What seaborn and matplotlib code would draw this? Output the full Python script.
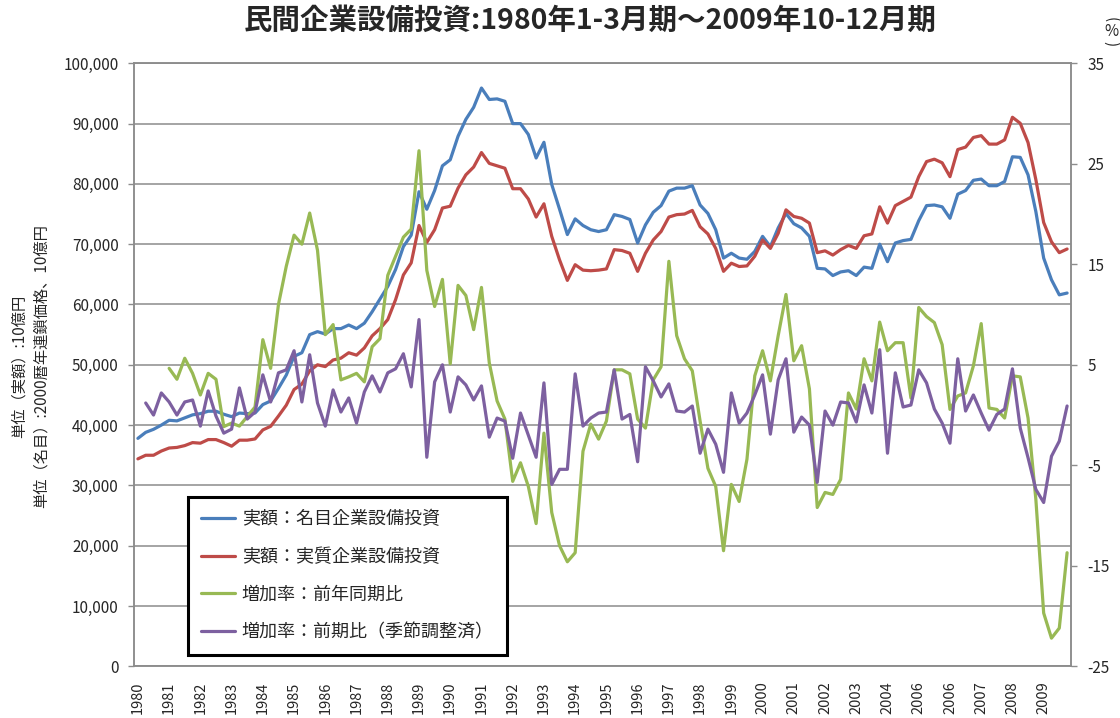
import numpy as np
import pandas as pd
import seaborn as sns
import matplotlib.pyplot as plt
from matplotlib.ticker import FuncFormatter

# quarterly data 1980 Q1 - 2009 Q4 (10億円 / %)
nominal = [37800, 38800, 39300, 40000, 40800, 40700, 41200, 41700, 41900, 42300,
           42300, 41800, 41400, 42000, 41900, 42000, 43400, 44000, 46100, 48300,
           51400, 52000, 55000, 55500, 55100, 56000, 56000, 56600, 56000, 56900,
           58800, 60900, 63000, 65800, 69600, 71500, 78700, 75800, 78900, 83000,
           84000, 87900, 90700, 92700, 95900, 94000, 94100, 93700, 90000, 90000,
           88200, 84300, 86900, 79900, 75800, 71600, 74200, 73100, 72400, 72100,
           72400, 74900, 74600, 74100, 70200, 73200, 75300, 76400, 78800, 79300,
           79300, 79700, 76500, 75100, 72400, 67700, 68500, 67700, 67500, 68800,
           71300, 69600, 72700, 75100, 73400, 72700, 71300, 66000, 65900, 64800,
           65400, 65600, 64800, 66200, 66000, 70000, 67100, 70200, 70600, 70800,
           73900, 76400, 76500, 76200, 74300, 78300, 78900, 80600, 80800, 79700,
           79700, 80400, 84500, 84400, 81500, 75400, 67700, 64100, 61600, 61900]

real = [34400, 35000, 35000, 35700, 36200, 36300, 36600, 37100, 37000, 37600,
        37600, 37100, 36500, 37500, 37500, 37700, 39200, 39800, 41500, 43300,
        45900, 46800, 49000, 50000, 49700, 50800, 51100, 52000, 51600, 52800,
        54800, 56000, 57500, 60800, 64900, 66900, 73100, 70300, 72400, 76000,
        76300, 79300, 81500, 82800, 85200, 83400, 83000, 82600, 79200, 79200,
        77500, 74500, 76700, 71300, 67400, 64000, 66600, 65700, 65600, 65700,
        65900, 69100, 68950, 68500, 65500, 68500, 70700, 72100, 74500, 74900,
        75000, 75600, 72900, 71700, 69300, 65500, 66850, 66300, 66400, 68000,
        70700, 69300, 71800, 75700, 74600, 74300, 73500, 68600, 68900, 68200,
        69100, 69800, 69300, 71400, 71700, 76200, 73500, 76400, 77100, 77800,
        81200, 83700, 84100, 83500, 81200, 85700, 86100, 87700, 88000, 86600,
        86600, 87300, 91050, 90050, 86850, 80700, 73600, 70400, 68600, 69200]

yoy = [np.nan, np.nan, np.nan, np.nan,
       4.65, 3.56, 5.65, 4.15, 2.0, 4.15, 3.56, -1.15, -0.8, -1.1,
       -0.15, 0.8, 7.5, 4.65, 11.0, 14.8, 17.9, 17.0, 20.1, 16.4,
       8.0, 9.0, 3.5, 3.8, 4.15, 3.3, 6.8, 7.6, 13.9, 15.8,
       17.7, 18.5, 26.3, 14.4, 10.8, 13.5, 5.1, 12.9, 11.9, 8.5,
       12.7, 5.2, 1.4, -0.4, -6.6, -4.75, -7.1, -10.8, -1.8, -9.7,
       -13.0, -14.6, -13.7, -3.6, -0.9, -2.4, -0.6, 4.5, 4.5, 4.1,
       -0.4, -1.3, 3.5, 4.8, 15.3, 7.9, 5.6, 4.4, -0.6, -5.3,
       -7.1, -13.5, -6.9, -8.6, -4.4, 3.9, 6.4, 3.4, 7.9, 12.0,
       5.4, 6.9, 2.6, -9.2, -7.7, -7.9, -6.4, 2.2, 0.6, 5.6,
       3.4, 9.25, 6.4, 7.2, 7.2, 1.7, 10.7, 9.8, 9.2, 7.0,
       0.56, 1.9, 2.2, 4.9, 9.1, 0.7, 0.56, -0.3, 3.9, 3.8,
       -0.3, -8.4, -19.7, -22.2, -21.2, -13.7]

qoq = [np.nan,
       1.2, 0.0, 2.2, 1.3, 0.0, 1.3, 1.5, -1.1, 2.4, -0.1,
       -1.8, -1.4, 2.7, -0.4, 0.3, 4.0, 1.3, 4.2, 4.5, 6.4,
       1.3, 6.0, 1.2, -1.1, 2.5, 0.3, 1.7, -0.8, 2.3, 3.9,
       2.3, 4.2, 4.6, 6.1, 2.8, 9.5, -4.2, 3.3, 5.0, 0.3,
       3.8, 3.0, 1.5, 2.9, -2.2, -0.3, -0.6, -4.3, 0.2, -2.0,
       -4.2, 3.2, -6.9, -5.4, -5.4, 4.1, -1.1, -0.3, 0.2, 0.3,
       4.5, -0.4, 0.06, -4.65, 4.8, 3.4, 1.8, 3.1, 0.4, 0.3,
       0.9, -3.8, -1.4, -2.9, -5.7, 2.2, -0.8, 0.2, 2.0, 4.0,
       -1.9, 3.5, 5.6, -1.7, -0.2, -1.0, -6.7, 0.4, -1.0, 1.3,
       1.2, -0.7, 3.0, 0.2, 6.5, -3.8, 4.2, 0.8, 1.0, 4.5,
       3.2, 0.6, -0.8, -2.8, 5.6, 0.4, 2.0, 0.2, -1.5, 0.06,
       0.6, 4.6, -1.3, -4.25, -7.4, -8.7, -4.1, -2.6, 0.9]

year_labels = [str(y) for y in range(1980, 2010)]
year_labels[25] = "2006"  # printed this way in the source chart

names = ["実額：名目企業設備投資", "実額：実質企業設備投資",
         "増加率：前年同期比", "増加率：前期比（季節調整済）"]
colors = ["#4A7EBB", "#BE4B48", "#98B954", "#7D60A0"]

sns.set_theme(style="white")
plt.rcParams["font.family"] = ["Noto Sans CJK JP", "DejaVu Sans"]
plt.rcParams["axes.unicode_minus"] = False

q = np.arange(len(nominal))
amt = pd.DataFrame({"q": q, "nominal": nominal, "real": real})
rate = pd.DataFrame({"q": q, "yoy": yoy, "qoq": qoq})

fig = plt.figure(figsize=(11.2, 7.18), dpi=100)
ax = fig.add_axes([134 / 1120, 1 - 666.3 / 718, 937 / 1120, 603 / 718])
ax2 = ax.twinx()

sns.lineplot(data=amt, x="q", y="nominal", ax=ax, color=colors[0], lw=2.3, label=names[0])
sns.lineplot(data=amt, x="q", y="real", ax=ax, color=colors[1], lw=2.3, label=names[1])
sns.lineplot(data=rate.dropna(subset=["yoy"]), x="q", y="yoy", ax=ax2, color=colors[2], lw=2.3, label=names[2])
sns.lineplot(data=rate.dropna(subset=["qoq"]), x="q", y="qoq", ax=ax2, color=colors[3], lw=2.3, label=names[3])

for a in (ax, ax2):
    if a.get_legend() is not None:
        a.get_legend().remove()
    a.set_xlabel("")
    a.set_ylabel("")

gc = "#8c8c8c"
ax.set_xlim(-0.5, 119.5)
ax.set_ylim(0, 100000)
ax.set_yticks(np.arange(0, 100001, 10000))
ax.yaxis.set_major_formatter(FuncFormatter(lambda v, p: f"{int(v):,}"))
ax2.set_ylim(-25, 35)
ax2.set_yticks(np.arange(-25, 36, 10))

ax.yaxis.grid(True, color=gc, lw=1.1)
ax.set_axisbelow(True)
for a in (ax, ax2):
    for s in a.spines.values():
        s.set_color(gc)
        s.set_linewidth(1.1)

# quarter tick marks, year labels at Q1
ax.set_xticks(np.arange(-0.5, 120, 1))
ax.set_xticklabels([])
ax.set_xticks(np.arange(0, 120, 4), minor=True)
ax.set_xticklabels(year_labels, minor=True, rotation=90, fontsize=10.5)
ax.tick_params(axis="x", which="major", direction="out", length=3, color=gc, width=1)
ax.tick_params(axis="x", which="minor", length=0, pad=11)
ax.tick_params(axis="y", direction="out", length=4, color=gc, width=1, labelsize=11, pad=7, left=True)
ax2.tick_params(axis="y", direction="out", length=4, color=gc, width=1, labelsize=11, pad=8, right=True)

fig.text(590 / 1120, 1 - 21 / 718, "民間企業設備投資:1980年1-3月期～2009年10-12月期",
         ha="center", va="center", fontsize=20.5, fontweight="bold")
fig.text(30 / 1120, 1 - 366 / 718,
         "単位（実額）:10億円\n単位（名目）:2000暦年連鎖価格、10億円",
         rotation=90, ha="center", va="center", fontsize=11, multialignment="center",
         linespacing=1.35)
fig.text(1111 / 1120, 1 - 20 / 718, "(", rotation=-90, ha="center", va="center", fontsize=11)
fig.text(1111 / 1120, 1 - 32 / 718, "%", ha="center", va="center", fontsize=11)
fig.text(1111 / 1120, 1 - 44 / 718, ")", rotation=-90, ha="center", va="center", fontsize=11)

h1, l1 = ax.get_legend_handles_labels()
h2, l2 = ax2.get_legend_handles_labels()
leg = ax2.legend(h1 + h2, l1 + l2, loc="upper left",
                 bbox_to_anchor=(188 / 1120, 1 - 497 / 718), bbox_transform=fig.transFigure,
                 borderaxespad=0, frameon=True, fancybox=False, framealpha=1,
                 edgecolor="black", fontsize=13, handlelength=1.9, handletextpad=0.35,
                 labelspacing=1.1, borderpad=0.72)
leg.get_frame().set_linewidth(2.2)

fig.savefig("out.png", dpi=100)
